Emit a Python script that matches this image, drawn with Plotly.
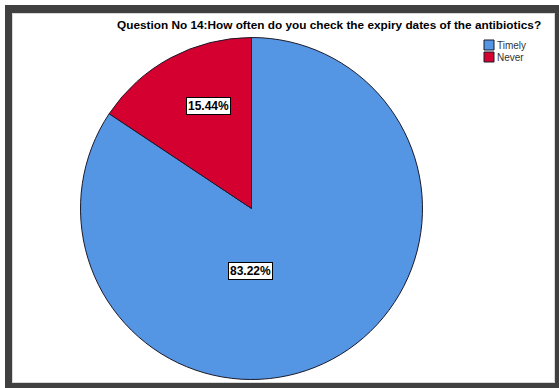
import plotly.graph_objects as go

categories = ["Timely", "Never"]
values = [83.22, 15.44]
pct_labels = ["83.22%", "15.44%"]
colors = ["#5596E4", "#D30030"]
title_text = "Question No 14:How often do you check the expiry dates of the antibiotics?"

W, H = 559, 388

fig = go.Figure()
fig.add_trace(go.Pie(
    labels=categories,
    values=values,
    sort=False,
    direction="clockwise",
    rotation=0,
    marker=dict(colors=colors, line=dict(color="#1a1a2a", width=1)),
    textinfo="none",
    hoverinfo="label+percent",
    showlegend=False,
    domain=dict(x=[80.5 / W, 422.5 / W], y=[1 - 379.5 / H, 1 - 37.5 / H]),
))

# percentage label boxes
label_pos = {"Never": (208, 106), "Timely": (250, 271)}
for cat, txt in zip(categories, pct_labels):
    px, py = label_pos[cat]
    fig.add_annotation(
        x=px / W, y=1 - py / H, xref="paper", yref="paper",
        xanchor="center", yanchor="middle",
        text="<b>" + txt + "</b>", showarrow=False,
        font=dict(family="Arial, Liberation Sans", size=12, color="black"),
        bgcolor="white", bordercolor="black", borderwidth=1, borderpad=1,
    )

fig.add_annotation(
    x=329 / W, y=1 - 25 / H, xref="paper", yref="paper",
    xanchor="center", yanchor="middle",
    text="<b>" + title_text + "</b>", showarrow=False,
    font=dict(family="Arial, Liberation Sans", size=11.8, color="black"),
)

# frame
fig.add_shape(type="rect", xref="paper", yref="paper",
              x0=5 / W, x1=1, y0=0, y1=1 - 5 / H,
              fillcolor="#404040", line=dict(width=0), layer="below")
fig.add_shape(type="rect", xref="paper", yref="paper",
              x0=12 / W, x1=555 / W, y0=1 - 383 / H, y1=1 - 13 / H,
              fillcolor="#d8d8d8", line=dict(width=0), layer="below")
fig.add_shape(type="rect", xref="paper", yref="paper",
              x0=13 / W, x1=554 / W, y0=1 - 382 / H, y1=1 - 14 / H,
              fillcolor="white", line=dict(width=0), layer="below")

# legend (drawn manually, SPSS style)
lx, ly0, step, sz = 484, 40, 12, 10
for i, (cat, col) in enumerate(zip(categories, colors)):
    top = ly0 + i * step
    fig.add_shape(type="rect", xref="paper", yref="paper",
                  x0=lx / W, x1=(lx + sz) / W, y0=1 - (top + sz) / H, y1=1 - top / H,
                  fillcolor=col, line=dict(color="#1a1a2a", width=1))
    fig.add_annotation(x=(lx + sz + 1) / W, y=1 - (top + sz / 2) / H,
                       xref="paper", yref="paper", xanchor="left", yanchor="middle",
                       text=cat, showarrow=False,
                       font=dict(family="Arial, Liberation Sans", size=10, color="#333333"))

fig.update_layout(
    width=W, height=H,
    margin=dict(l=0, r=0, t=0, b=0),
    paper_bgcolor="white", plot_bgcolor="white",
    showlegend=False,
)

fig.write_html("out.html")
